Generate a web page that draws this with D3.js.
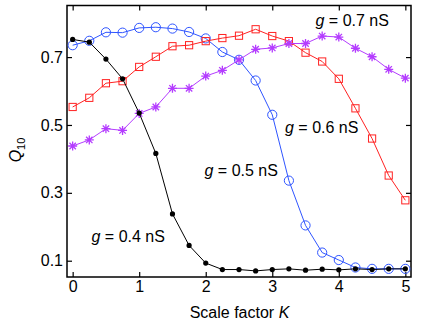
<!DOCTYPE html>
<html lang="en">
<head>
<meta charset="UTF-8">
<title>Q10 vs scale factor</title>
<script src="https://cdn.jsdelivr.net/npm/d3@7"></script>
<style>
  body { margin: 0; background: #fff; }
  text { font-family: "Liberation Sans", Arial, sans-serif; }
</style>
</head>
<body>
<svg width="425" height="327"></svg>
<script>
    // scale factor K, shared by every curve
    const kValues = [0, 0.25, 0.5, 0.75, 1, 1.25, 1.5, 1.75, 2, 2.25, 2.5, 2.75, 3, 3.25, 3.5, 3.75, 4, 4.25, 4.5, 4.75, 5]

    const q04 = [0.752, 0.744, 0.694, 0.636, 0.535, 0.416, 0.238, 0.145, 0.093, 0.074, 0.074, 0.070, 0.074, 0.076, 0.072, 0.075, 0.073, 0.076, 0.074, 0.076, 0.076]
    const q05 = [0.735, 0.748, 0.773, 0.772, 0.786, 0.788, 0.784, 0.774, 0.755, 0.715, 0.692, 0.631, 0.530, 0.336, 0.204, 0.124, 0.102, 0.080, 0.076, 0.076, 0.076]
    const q06 = [0.553, 0.580, 0.623, 0.629, 0.671, 0.701, 0.732, 0.735, 0.747, 0.756, 0.763, 0.782, 0.762, 0.747, 0.713, 0.687, 0.636, 0.549, 0.460, 0.351, 0.278]
    const q07 = [0.438, 0.456, 0.489, 0.484, 0.534, 0.553, 0.608, 0.608, 0.644, 0.661, 0.692, 0.723, 0.727, 0.740, 0.740, 0.762, 0.759, 0.726, 0.701, 0.664, 0.638]

    const xTicks = [0, 1, 2, 3, 4, 5]
    const yTicks = [0.1, 0.3, 0.5, 0.7]

    const plotLeft = 67, plotRight = 411, plotTop = 5.5, plotBottom = 277

    const svg = d3.select("svg")

    const x = d3.scaleLinear().domain([-0.085, 5.085]).range([plotLeft, plotRight])
    const y = d3.scaleLinear().domain([0.052, 0.852]).range([plotBottom, plotTop])

    // box with inward ticks on all four sides
    const tickLen = 5
    svg.append("g").attr("transform", `translate(0,${plotBottom})`)
        .call(d3.axisBottom(x).tickValues(xTicks).tickSizeInner(-tickLen).tickSizeOuter(0).tickPadding(4).tickFormat(d3.format("d")))
    svg.append("g").attr("transform", `translate(0,${plotTop})`)
        .call(d3.axisTop(x).tickValues(xTicks).tickSizeInner(-tickLen).tickSizeOuter(0).tickFormat(""))
    svg.append("g").attr("transform", `translate(${plotLeft},0)`)
        .call(d3.axisLeft(y).tickValues(yTicks).tickSizeInner(-tickLen).tickSizeOuter(0).tickPadding(4).tickFormat(d3.format(".1f")))
    svg.append("g").attr("transform", `translate(${plotRight},0)`)
        .call(d3.axisRight(y).tickValues(yTicks).tickSizeInner(-tickLen).tickSizeOuter(0).tickFormat(""))

    svg.selectAll(".domain").remove()
    svg.selectAll(".tick line").attr("stroke", "#000").attr("stroke-width", 1.2)
    svg.selectAll(".tick text").attr("font-size", 16).attr("fill", "#000")
        .style("font-family", "'Liberation Sans', Arial, sans-serif")

    svg.append("rect")
        .attr("x", plotLeft).attr("y", plotTop)
        .attr("width", plotRight - plotLeft).attr("height", plotBottom - plotTop)
        .attr("fill", "none").attr("stroke", "#000").attr("stroke-width", 1.5)

    const line = d3.line().x((d, i) => x(kValues[i])).y(d => y(d))

    function drawSeries(values, color, marker) {
        const g = svg.append("g")
        g.append("path").datum(values)
            .attr("d", line)
            .attr("fill", "none").attr("stroke", color).attr("stroke-width", 1)
        const pts = g.selectAll("g.pt").data(values).join("g")
            .attr("transform", (d, i) => `translate(${x(kValues[i])},${y(d)})`)
        marker(pts, color)
    }

    const circleMarker = (sel, c) => sel.append("circle").attr("r", 4.6)
        .attr("fill", "none").attr("stroke", c).attr("stroke-width", 1)
    const squareMarker = (sel, c) => sel.append("rect").attr("x", -3.6).attr("y", -3.6)
        .attr("width", 7.2).attr("height", 7.2)
        .attr("fill", "none").attr("stroke", c).attr("stroke-width", 1)
    const starMarker = (sel, c) => sel.append("path")
        .attr("d", "M-4.5,0H4.5M0,-4.5V4.5M-3.2,-3.2L3.2,3.2M-3.2,3.2L3.2,-3.2")
        .attr("fill", "none").attr("stroke", c).attr("stroke-width", 1.3)
    const dotMarker = (sel, c) => sel.append("circle").attr("r", 2.6).attr("fill", c)

    drawSeries(q05, "#2f55ff", circleMarker)
    drawSeries(q06, "#ff2222", squareMarker)
    drawSeries(q07, "#b43cff", starMarker)
    drawSeries(q04, "#000000", dotMarker)

    // curve labels
    const labels = [
        {g: "0.7", x: 315.5, y: 26},
        {g: "0.6", x: 285, y: 133},
        {g: "0.5", x: 204.5, y: 176},
        {g: "0.4", x: 91.5, y: 242}
    ]
    labels.forEach(l => {
        const t = svg.append("text").attr("x", l.x).attr("y", l.y).attr("font-size", 16)
        t.append("tspan").attr("font-style", "italic").text("g")
        t.append("tspan").text(` = ${l.g} nS`)
    })

    // axis titles
    const xt = svg.append("text").attr("x", (plotLeft + plotRight) / 2 + 0.5).attr("y", 318)
        .attr("text-anchor", "middle").attr("font-size", 16)
    xt.append("tspan").text("Scale factor ")
    xt.append("tspan").attr("font-style", "italic").text("K")

    const yt = svg.append("text").attr("transform", `translate(21,150) rotate(-90)`)
        .attr("text-anchor", "middle").attr("font-size", 16)
    yt.append("tspan").attr("font-style", "italic").text("Q")
    yt.append("tspan").attr("font-size", 11).attr("dy", 4).text("10")
</script>
</body>
</html>
